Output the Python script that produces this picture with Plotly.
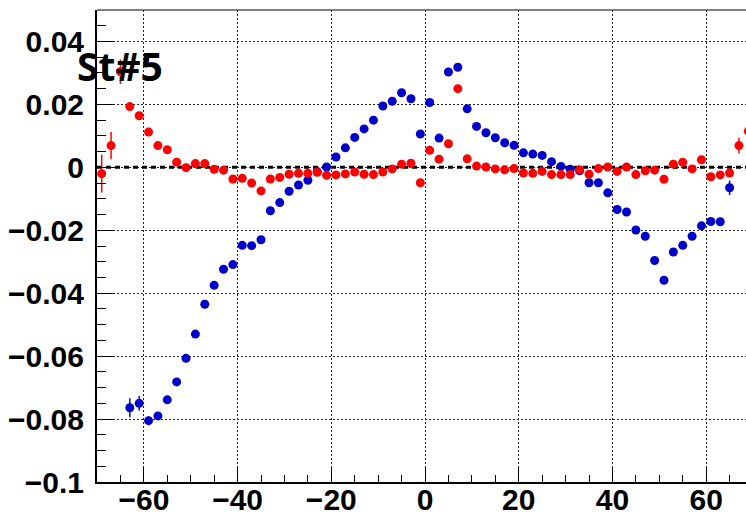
import plotly.graph_objects as go

# ---- data ----
red_x = [-69, -67, -65, -63, -61, -59, -57, -55, -53, -51, -49, -47, -45, -43, -41, -39, -37, -35,
         -33, -31, -29, -27, -25, -23, -21, -19, -17, -15, -13, -11, -9, -7, -5, -3, -1,
         1, 3, 5, 7, 9, 11, 13, 15, 17, 19, 21, 23, 25, 27, 29, 31, 33, 35,
         37, 39, 41, 43, 45, 47, 49, 51, 53, 55, 57, 59, 61, 63, 65, 67, 69]
red_y = [-0.0020, 0.0069, 0.0304, 0.0193, 0.0164, 0.0112, 0.0069, 0.0056, 0.0016, -0.0001,
         0.0012, 0.0012, -0.0006, -0.0009, -0.0037, -0.0035, -0.0050, -0.0075, -0.0037, -0.0032,
         -0.0022, -0.0019, -0.0019, -0.0016, -0.0025, -0.0024, -0.0021, -0.0015, -0.0022, -0.0023,
         -0.0015, -0.0005, 0.0010, 0.0013, -0.0049, 0.0054, 0.0026, 0.0075, 0.0250, 0.0027,
         0.0004, 0.0001, -0.0005, -0.0008, -0.0004, -0.0018, -0.0019, -0.0013, -0.0023, -0.0023,
         -0.0023, -0.0008, -0.0022, -0.0004, 0.0001, -0.0013, 0.0001, -0.0023, -0.0011, -0.0009,
         -0.0038, 0.0010, 0.0016, -0.0005, 0.0024, -0.0030, -0.0024, -0.0018, 0.0069, 0.0115]
red_err = [0.0060, 0.0043, 0.0039] + [0.0008] * 65 + [0.0025, 0.0030]
red_err = red_err[:len(red_y)]

blue_x = [-63, -61, -59, -57, -55, -53, -51, -49, -47, -45, -43, -41, -39, -37, -35,
          -33, -31, -29, -27, -25, -23, -21, -19, -17, -15, -13, -11, -9, -7, -5, -3, -1,
          1, 3, 5, 7, 9, 11, 13, 15, 17, 19, 21, 23, 25, 27, 29, 31, 33, 35,
          37, 39, 41, 43, 45, 47, 49, 51, 53, 55, 57, 59, 61, 63, 65]
blue_y = [-0.0764, -0.0750, -0.0805, -0.0790, -0.0739, -0.0682, -0.0607, -0.0530, -0.0435, -0.0375,
          -0.0324, -0.0309, -0.0248, -0.0249, -0.0230, -0.0138, -0.0112, -0.0076, -0.0056, -0.0041,
          -0.0014, 0.0001, 0.0033, 0.0062, 0.0095, 0.0122, 0.0150, 0.0195, 0.0210, 0.0237,
          0.0218, 0.0106, 0.0206, 0.0093, 0.0303, 0.0318, 0.0186, 0.0130, 0.0110, 0.0094,
          0.0078, 0.0070, 0.0046, 0.0042, 0.0038, 0.0018, 0.0003, -0.0006, -0.0011, -0.0049,
          -0.0049, -0.0081, -0.0134, -0.0142, -0.0199, -0.0219, -0.0296, -0.0359, -0.0269, -0.0248,
          -0.0219, -0.0186, -0.0172, -0.0173, -0.0065]
blue_err = [0.0030, 0.0023, 0.0014, 0.0012] + [0.0008] * 60 + [0.0023]
blue_err = blue_err[:len(blue_y)]

x_ticks = [-60, -40, -20, 0, 20, 40, 60]
x_ticktext = ["\u221260", "\u221240", "\u221220", "0", "20", "40", "60"]
y_ticks = [-0.1, -0.08, -0.06, -0.04, -0.02, 0, 0.02, 0.04]
y_ticktext = ["\u22120.1", "\u22120.08", "\u22120.06", "\u22120.04", "\u22120.02", "0", "0.02", "0.04"]
zero_x = [-70, 70]
zero_y = [0, 0]
label = "St#5"

fig = go.Figure()

fig.add_trace(go.Scatter(x=zero_x, y=zero_y, mode="lines",
                         line=dict(color="black", width=3, dash="5px,4px"),
                         hoverinfo="skip", showlegend=False))

fig.add_trace(go.Scatter(x=blue_x, y=blue_y, mode="markers",
                         marker=dict(color="#0000cc", size=9),
                         error_y=dict(type="data", array=blue_err, color="#0000cc",
                                      thickness=1.5, width=0),
                         showlegend=False))

fig.add_trace(go.Scatter(x=red_x, y=red_y, mode="markers",
                         marker=dict(color="#ff0000", size=9),
                         error_y=dict(type="data", array=red_err, color="#ff0000",
                                      thickness=1.5, width=0),
                         showlegend=False))

tick_font = dict(family="Liberation Sans", size=30, color="black", weight="bold")

fig.update_xaxes(range=[-70, 68.5], tickvals=x_ticks, ticktext=x_ticktext,
                 ticks="inside", ticklen=15, tickwidth=1, tickcolor="black",
                 minor=dict(dtick=5, tick0=0, ticks="inside", ticklen=7, tickcolor="black",
                            showgrid=False),
                 showgrid=True, gridcolor="#222", griddash="2px,2px", gridwidth=1,
                 showline=True, linecolor="black", linewidth=2, mirror=False,
                 zeroline=False, tickfont=tick_font, automargin=False,
                 ticklabelstandoff=-10)

fig.update_yaxes(range=[-0.1, 0.05], tickvals=y_ticks, ticktext=y_ticktext,
                 ticks="inside", ticklen=18, tickwidth=1, tickcolor="black",
                 minor=dict(dtick=0.005, tick0=0, ticks="inside", ticklen=9, tickcolor="black",
                            showgrid=False),
                 showgrid=True, gridcolor="#222", griddash="2px,2px", gridwidth=1,
                 showline=True, linecolor="black", linewidth=2, mirror=False,
                 zeroline=False, tickfont=tick_font, automargin=False,
                 ticklabelstandoff=5)

fig.add_shape(type="line", xref="paper", yref="paper", x0=0, x1=1, y0=1, y1=1,
              line=dict(color="black", width=1))

fig.add_annotation(text=label, xref="paper", yref="paper", x=0.036, y=0.882,
                   xanchor="center", yanchor="middle", showarrow=False,
                   font=dict(family="Open Sans", size=39, color="black", weight="bold"))

fig.update_layout(width=746, height=516, margin=dict(l=97, r=0, t=10, b=34),
                  paper_bgcolor="white", plot_bgcolor="white")

fig.write_html("out.html")
